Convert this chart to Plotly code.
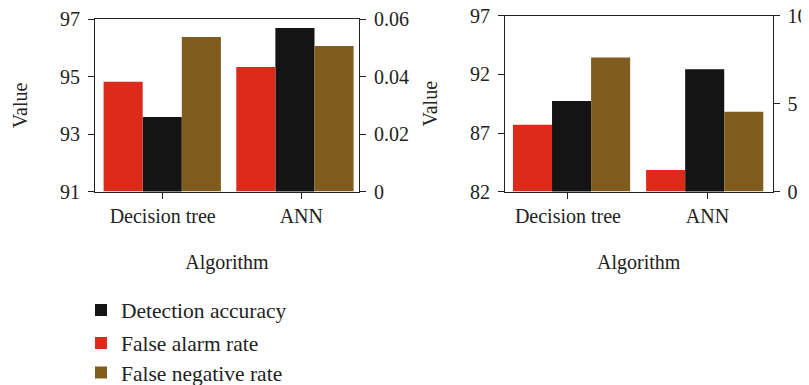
import plotly.graph_objects as go

categories = ["Decision tree", "ANN"]
series_names = ["Detection accuracy", "False alarm rate", "False negative rate"]

# Left panel values
left_detection = [93.6, 96.7]          # left axis (Value)
left_false_alarm = [0.0382, 0.0434]    # right axis
left_false_negative = [0.0538, 0.0507] # right axis

# Right panel values
right_detection = [89.74, 92.44]       # left axis (Value)
right_false_alarm = [3.81, 1.22]       # right axis
right_false_negative = [7.63, 4.54]    # right axis

left_y_ticks = [91, 93, 95, 97]
left_y2_ticks = [0, 0.02, 0.04, 0.06]
right_y_ticks = [82, 87, 92, 97]
right_y2_ticks = [0, 5, 10]

# Styles
C_BLACK = "#141414"
C_RED = "#DC2B1B"
C_BROWN = "#805D1F"
FONT = "Liberation Serif"
FS = 20
LEG_FS = 21.5

# page offset (body margin) and figure size
OFF = 8
FW, FH = 801, 385


def px(sx):
    return (sx - OFF) / FW


def py(sy):
    return 1 - (sy - OFF) / FH


# bar layout (style): per-group start offset of first bar, bar width
L_W = 0.282
L_START = [-0.426, -0.469]
R_W = 0.28
R_START = [-0.394, -0.44]


def offs(start, k, w):
    return [s + k * w for s in start]


fig = go.Figure()

# Left panel: one legend per series so each entry can be placed
fig.add_trace(go.Bar(x=categories, y=left_detection, name=series_names[0],
                     marker=dict(color=C_BLACK, line=dict(width=0)),
                     width=L_W, offset=offs(L_START, 1, L_W),
                     xaxis="x", yaxis="y", legend="legend"))
fig.add_trace(go.Bar(x=categories, y=left_false_alarm, name=series_names[1],
                     marker=dict(color=C_RED, line=dict(width=0)),
                     width=L_W, offset=offs(L_START, 0, L_W),
                     xaxis="x", yaxis="y2", legend="legend2"))
fig.add_trace(go.Bar(x=categories, y=left_false_negative, name=series_names[2],
                     marker=dict(color=C_BROWN, line=dict(width=0)),
                     width=L_W, offset=offs(L_START, 2, L_W),
                     xaxis="x", yaxis="y2", legend="legend3"))

# Right panel
fig.add_trace(go.Bar(x=categories, y=right_detection, name=series_names[0],
                     marker=dict(color=C_BLACK, line=dict(width=0)),
                     width=R_W, offset=offs(R_START, 1, R_W),
                     xaxis="x2", yaxis="y3", showlegend=False))
fig.add_trace(go.Bar(x=categories, y=right_false_alarm, name=series_names[1],
                     marker=dict(color=C_RED, line=dict(width=0)),
                     width=R_W, offset=offs(R_START, 0, R_W),
                     xaxis="x2", yaxis="y4", showlegend=False))
fig.add_trace(go.Bar(x=categories, y=right_false_negative, name=series_names[2],
                     marker=dict(color=C_BROWN, line=dict(width=0)),
                     width=R_W, offset=offs(R_START, 2, R_W),
                     xaxis="x2", yaxis="y4", showlegend=False))

L_DOM_X = [px(95), px(359)]
R_DOM_X = [px(505), px(772.5)]
L_DOM_Y = [py(192), py(19.3)]
R_DOM_Y = [py(192), py(16)]

axis_common = dict(showgrid=False, zeroline=False, showline=True, linecolor="#222",
                   linewidth=1.2, ticks="outside", ticklen=6, tickwidth=1.2,
                   tickcolor="#222", tickfont=dict(family=FONT, size=FS, color="#222"),
                   automargin=False)

legend_common = dict(x=px(81), xanchor="left", yanchor="middle",
                     bgcolor="rgba(0,0,0,0)",
                     font=dict(family=FONT, size=LEG_FS, color="#222"),
                     itemwidth=30)

fig.update_layout(
    width=FW, height=FH,
    margin=dict(l=0, r=0, t=0, b=0),
    paper_bgcolor="white", plot_bgcolor="white",
    barmode="overlay",
    font=dict(family=FONT, size=FS, color="#222"),
    xaxis=dict(domain=L_DOM_X, anchor="y", type="category", range=[-0.488, 1.416],
               mirror=True, title=dict(text="Algorithm", standoff=29,
                                       font=dict(family=FONT, size=FS)),
               **axis_common),
    yaxis=dict(domain=L_DOM_Y, anchor="x", range=[91, 97], tickvals=left_y_ticks,
               title=dict(text="Value", standoff=26, font=dict(family=FONT, size=FS)),
               ticklabelstandoff=4, ticklabeloverflow="allow", **axis_common),
    yaxis2=dict(overlaying="y", side="right", anchor="x", range=[0, 0.06],
                tickvals=left_y2_ticks, ticktext=["0", "0.02", "0.04", "0.06"],
                ticklabelstandoff=4, ticklabeloverflow="allow", **axis_common),
    xaxis2=dict(domain=R_DOM_X, anchor="y3", type="category", range=[-0.451, 1.466],
                mirror=True, title=dict(text="Algorithm", standoff=29,
                                        font=dict(family=FONT, size=FS)),
                **axis_common),
    yaxis3=dict(domain=R_DOM_Y, anchor="x2", range=[82, 97], tickvals=right_y_ticks,
                title=dict(text="Value", standoff=26, font=dict(family=FONT, size=FS)),
                ticklabelstandoff=4, ticklabeloverflow="allow", **axis_common),
    yaxis4=dict(overlaying="y3", side="right", anchor="x2", range=[0, 10],
                tickvals=right_y2_ticks, ticklabelstandoff=4, ticklabeloverflow="allow",
                **axis_common),
    legend=dict(y=py(310), **legend_common),
    legend2=dict(y=py(343), **legend_common),
    legend3=dict(y=py(373), **legend_common),
)

fig.write_html("out.html")
